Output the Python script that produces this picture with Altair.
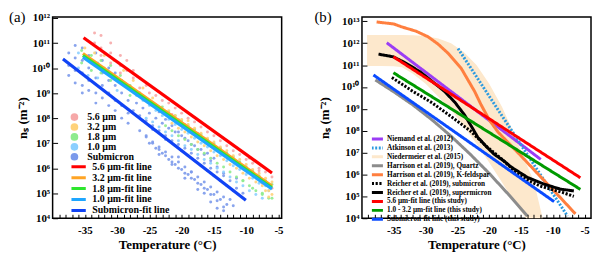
import altair as alt
import pandas as pd

FONT = "Liberation Serif"

# ---------------- Panel (a): measured spectra (temperature in degC, log10 ns) ----------------
sub_T = [-37.5, -37.5, -37.5, -36.5, -36.5, -36.5, -36.5, -35.4, -35.4, -35.4, -35.4, -35.4,
         -34.4, -34.4, -34.4, -34.4, -33.3, -33.3, -33.3, -33.3, -33.3, -32.3, -32.3, -32.3, -32.3,
         -31.3, -31.3, -31.3, -31.3, -30.3, -30.3, -30.3, -30.3, -29.3, -29.3, -29.3, -29.3,
         -28.3, -28.3, -28.3, -28.3,
         -27, -26, -25, -24, -23, -22, -21, -20, -19, -18, -17, -16, -15,
         -27.5, -26.5, -25.5, -24.5, -23.5, -22.5, -21.5, -20.5, -19.5, -18.5, -17.5, -16.5, -15.5, -14.5, -13.5,
         -26, -25, -24, -23, -22, -21, -20, -19, -18, -17, -16, -15, -14, -13, -12,
         -26.5, -25.5, -24.5, -23.5, -22.5, -21.5, -20.5, -19.5, -18.5, -17.5, -16.5, -15.5, -14.5, -13.5,
         -25, -24, -23, -22, -21, -20, -19, -18, -17, -16, -15, -14, -13,
         -25.5, -24.5, -23.5, -22.5, -21.5, -20.5, -19.5, -18.5, -17.5, -16.5, -15.5, -14.5, -13.5,
         -24.5, -23.5, -22.5, -21.5, -20.5, -19.5, -18.5, -17.5, -16.5, -15.5, -14.5, -13.5, -12.5, -11.5,
         -23.5, -21.5, -19.5, -17.5, -15.5, -14.5, -13.5, -12.5, -11.5, -16.5, -18.5, -20.5, -22.5, -24.5,
         -10.5, -12]
sub_L = [10.6, 10.1, 9.7, 10.9, 10.4, 9.9, 9.4, 10.8, 10.3, 9.8, 9.3, 9.0,
         10.5, 10.0, 9.5, 9.1, 10.6, 10.1, 9.6, 9.0, 8.6, 10.3, 9.8, 9.3, 8.8,
         10.0, 9.5, 9.0, 8.5, 9.8, 9.3, 8.7, 8.3, 9.5, 9.0, 8.5, 8.0,
         9.2, 8.7, 8.2, 7.8,
         8.6, 8.4, 8.2, 8.0, 7.8, 7.6, 7.45, 7.3, 7.1, 6.9, 6.75, 6.6, 6.4,
         8.3, 8.1, 7.9, 7.7, 7.5, 7.3, 7.1, 6.95, 6.8, 6.6, 6.4, 6.2, 6.0, 5.85, 5.7,
         7.9, 7.7, 7.5, 7.3, 7.1, 6.9, 6.7, 6.5, 6.3, 6.1, 5.9, 5.7, 5.5, 5.3, 5.1,
         7.5, 7.3, 7.05, 6.85, 6.65, 6.45, 6.25, 6.05, 5.85, 5.65, 5.45, 5.25, 5.05, 4.85,
         7.0, 6.8, 6.6, 6.35, 6.15, 5.95, 5.75, 5.55, 5.35, 5.15, 4.95, 4.75, 4.55,
         7.25, 7.0, 6.75, 6.5, 6.25, 6.0, 5.8, 5.6, 5.4, 5.2, 4.95, 4.7, 4.45,
         8.5, 8.25, 7.95, 7.7, 7.45, 7.2, 6.95, 6.75, 6.55, 6.3, 6.05, 5.8, 5.5, 5.2,
         6.55, 6.15, 5.6, 5.15, 4.65, 4.4, 4.3, 4.75, 5.6, 5.0, 5.85, 6.45, 7.15, 7.55,
         5.0, 4.5]

um10_T = [-36, -36, -34.5, -34.5, -33, -33, -31.5, -30, -30, -28.5, -27,
          -26, -25, -24, -23, -22, -21, -20, -19, -18, -17, -16, -15, -14, -13, -12, -11, -10, -9, -8,
          -25.5, -24.5, -23.5, -22.5, -21.5, -20.5, -19.5, -18.5, -17.5, -16.5, -15.5, -14.5, -13.5,
          -12.5, -11.5, -10.5, -9.5, -8.5, -7.5,
          -6.5, -7]
um10_L = [10.6, 10.0, 10.4, 9.7, 10.2, 9.6, 9.9, 9.6, 9.1, 9.3, 8.9,
          8.7, 8.5, 8.3, 8.1, 7.95, 7.75, 7.55, 7.4, 7.2, 7.0, 6.85, 6.65, 6.5, 6.3, 6.1, 5.95, 5.75, 5.6, 5.4,
          8.0, 7.85, 7.65, 7.45, 7.3, 7.1, 6.9, 6.75, 6.55, 6.35, 6.2, 6.0, 5.85,
          5.65, 5.45, 5.3, 5.1, 4.95, 4.8,
          5.1, 5.3]

um18_T = [-35.5, -35.5, -34, -34, -32.5, -32.5, -31, -31, -29.5, -28, -28, -26.5,
          -23, -22, -21, -20, -19, -18, -17, -16, -15, -14, -13, -12, -11, -10, -9, -8, -7, -6,
          -22.5, -21.5, -20.5, -19.5, -18.5, -17.5, -16.5, -15.5, -14.5, -13.5, -12.5, -11.5,
          -10.5, -9.5, -8.5, -7.5, -6.5,
          -6, -7.5, -10.5, -9]
um18_L = [10.7, 10.2, 10.5, 9.9, 10.3, 9.8, 10.1, 9.5, 9.7, 9.3, 8.9, 9.0,
          8.45, 8.25, 8.1, 7.9, 7.7, 7.55, 7.35, 7.15, 7.0, 6.8, 6.6, 6.45, 6.25, 6.05, 5.9, 5.7, 5.5, 5.35,
          7.7, 7.5, 7.3, 7.15, 6.95, 6.75, 6.6, 6.4, 6.2, 6.05, 5.85, 5.65,
          5.5, 5.3, 5.1, 4.95, 4.8,
          4.8, 5.0, 5.5, 5.2]

um32_T = [-35, -35, -33.5, -33.5, -32, -32, -30.5, -30.5, -29, -29, -27.5, -27.5, -26, -26, -24.5,
          -22, -21, -20, -19, -18, -17, -16, -15, -14, -13, -12, -11, -10, -9, -8, -7, -6,
          -21.5, -20.5, -19.5, -18.5, -17.5, -16.5, -15.5, -14.5, -13.5, -12.5, -11.5, -10.5,
          -9.5, -8.5, -7.5, -6.5,
          -6, -6.5, -7, -19, -11]
um32_L = [10.8, 10.4, 10.6, 10.2, 10.5, 10.0, 10.3, 9.7, 9.9, 9.4, 9.5, 9.1, 9.2, 8.8, 8.8,
          8.3, 8.1, 7.95, 7.75, 7.6, 7.4, 7.2, 7.05, 6.85, 6.7, 6.5, 6.35, 6.15, 5.95, 5.8, 5.6, 5.45,
          7.8, 7.6, 7.45, 7.25, 7.05, 6.9, 6.7, 6.5, 6.35, 6.15, 6.0, 5.8,
          5.6, 5.45, 5.3, 5.1,
          4.95, 4.85, 5.1, 7.9, 6.2]

um56_T = [-33.5, -33.5, -32.5, -32.5, -32.5, -31, -31, -31, -29.5, -29.5, -29.5, -28.5, -28.5,
          -27.5, -27.5, -26.5, -26.5, -25.5, -25,
          -22, -21, -20, -19, -18, -17, -16, -15, -14, -13, -12, -11, -10, -9, -8, -7, -6,
          -21.5, -20.5, -19.5, -18.5, -17.5, -16.5, -15.5, -14.5, -13.5, -12.5, -11.5, -10.5,
          -9.5, -8.5, -7.5, -6.5,
          -23, -20.5, -17.5, -12.5, -9.5, -7.5, -6, -8, -24, -14.5]
um56_L = [11.4, 11.0, 11.3, 10.8, 10.5, 11.0, 10.6, 10.2, 10.5, 10.1, 9.8, 10.3, 9.9,
          9.9, 9.6, 9.6, 9.2, 9.3, 9.0,
          8.6, 8.4, 8.2, 8.0, 7.85, 7.65, 7.45, 7.3, 7.1, 6.9, 6.7, 6.55, 6.35, 6.2, 6.0, 5.85, 5.65,
          8.15, 7.95, 7.75, 7.55, 7.35, 7.2, 7.0, 6.8, 6.6, 6.45, 6.25, 6.05,
          5.85, 5.7, 5.5, 5.35,
          8.7, 7.9, 7.4, 6.4, 6.4, 5.4, 5.2, 5.9, 8.9, 6.8]

pt_names = ["5.6 µm", "3.2 µm", "1.8 µm", "1.0 µm", "Submicron"]
pt_colors = ["#F6A8A8", "#FFD27A", "#8EEB8E", "#8CCFFF", "#7C9AEB"]

# fit lines (end points)
fit_names = ["5.6 µm-fit line", "3.2 µm-fit line", "1.8 µm-fit line", "1.0 µm-fit line", "Submicron-fit line"]
fit_colors = ["#FF0000", "#FFA424", "#2EE62E", "#1EA6FF", "#1043F5"]
fit_T = [[-35.2, -6.0], [-35.3, -6.0], [-35.3, -6.0], [-35.3, -6.0], [-38.4, -10.05]]
fit_L = [[11.21, 5.81], [10.58, 5.29], [10.5, 5.22], [10.43, 5.17], [10.36, 4.72]]

# ---------------- Panel (b): literature comparison ----------------
b_names = ["Niemand et al. (2012)", "Atkinson et al. (2013)", "Niedermeier et al. (2015)",
           "Harrison et al. (2019), Quartz", "Harrison et al. (2019), K-feldspar",
           "Reicher et al. (2019), submicron", "Reicher et al. (2019), supermicron",
           "5.6 µm-fit line (this study)", "1.0 - 3.2 µm-fit line (this study)",
           "Submicron-fit line (this study)"]
b_colors = ["#9B3DF5", "#2C9BE0", "#FDE8CC", "#8C8C8C", "#FF7F3F",
            "#000000", "#000000", "#FF0000", "#009A00", "#0A4BFF"]
b_dash = [[1, 0], [2, 1.6], [1, 0], [1, 0], [1, 0], [2.2, 1.6], [1, 0], [1, 0], [1, 0], [1, 0]]
b_width = [3, 3, 5, 3, 2.6, 3, 3, 3.5, 3.5, 3.5]

b_T = {
    "Niemand et al. (2012)": [-36.1, -11.9],
    "Atkinson et al. (2013)": [-24.9, -7.7],
    "Harrison et al. (2019), Quartz": [-37.9, -35, -32, -29, -26, -23, -20, -17, -14],
    "Harrison et al. (2019), K-feldspar": [-37.7, -35, -33.8, -31.5, -29.6, -28, -26.5, -24.4, -22.3,
                                           -21.3, -20, -18.65, -15, -12, -9, -6.45],
    "Reicher et al. (2019), submicron": [-35.3, -32, -29, -26, -23, -20.5, -18, -16, -14, -12, -10,
                                         -8.5, -6.7],
    "Reicher et al. (2019), supermicron": [-37.4, -35.1, -33.5, -32.2, -30.8, -29.6, -28.3, -27, -25.4,
                                           -23.9, -22.8, -21.8, -20.2, -19.2, -17.6, -16.6, -14, -11.4,
                                           -8.8, -6.7],
    "5.6 µm-fit line (this study)": [-35.06, -5.67],
    "1.0 - 3.2 µm-fit line (this study)": [-35.06, -5.67],
    "Submicron-fit line (this study)": [-38.2, -9.8],
}
b_L = {
    "Niemand et al. (2012)": [12.02, 6.69],
    "Atkinson et al. (2013)": [11.76, 4.1],
    "Harrison et al. (2019), Quartz": [10.32, 9.78, 9.18, 8.5, 7.75, 6.93, 6.05, 5.1, 4.1],
    "Harrison et al. (2019), K-feldspar": [12.97, 12.88, 12.75, 12.55, 12.29, 11.95, 11.55, 10.85, 9.8,
                                           9.2, 8.5, 7.95, 6.85, 5.92, 5.0, 4.2],
    "Reicher et al. (2019), submicron": [10.43, 9.8, 9.28, 8.65, 8.0, 7.3, 6.7, 6.15, 5.75, 5.47, 5.3,
                                         5.18, 5.0],
    "Reicher et al. (2019), supermicron": [11.5, 11.38, 11.15, 10.93, 10.68, 10.4, 10.1, 9.79, 9.3,
                                           8.73, 8.2, 7.7, 7.2, 6.92, 6.6, 6.35, 5.87, 5.56, 5.33, 5.25],
    "5.6 µm-fit line (this study)": [11.38, 5.85],
    "1.0 - 3.2 µm-fit line (this study)": [10.65, 5.32],
    "Submicron-fit line (this study)": [10.55, 4.76],
}

# Niedermeier et al. (2015) band
band_T = [-39.2, -37, -35, -33.7, -32, -30, -28, -26, -24, -22, -20, -18, -16, -14.2, -13, -11.6]
band_top = [12.37, 12.37, 12.37, 12.37, 12.36, 12.33, 12.22, 12.0, 11.6, 11.0, 10.15, 9.1, 7.8, 6.5, 5.7, 4.0]
band_bot = [10.96, 10.96, 10.95, 10.9, 10.6, 10.15, 9.55, 8.95, 8.2, 7.4, 6.55, 5.65, 4.7, 4.0, 4.0, 4.0]

# ---------------- build tables ----------------
rows = []
for cls, T, L in [("Submicron", sub_T, sub_L), ("1.0 µm", um10_T, um10_L), ("1.8 µm", um18_T, um18_L),
                  ("3.2 µm", um32_T, um32_L), ("5.6 µm", um56_T, um56_L)]:
    for t, l in zip(T, L):
        rows.append({"T": t, "ns": 10 ** l, "cls": cls})
df_pts = pd.DataFrame(rows)

rows = []
for name, T, L in zip(fit_names, fit_T, fit_L):
    for t, l in zip(T, L):
        rows.append({"T": t, "ns": 10 ** l, "fit": name})
df_fit = pd.DataFrame(rows)

rows = []
for name in b_names:
    if name in b_T:
        for t, l in zip(b_T[name], b_L[name]):
            rows.append({"T": t, "ns": 10 ** l, "src": name})
df_b = pd.DataFrame(rows)

df_band = pd.DataFrame({"T": band_T, "top": [10 ** v for v in band_top], "bot": [10 ** v for v in band_bot]})

# ---------------- helpers ----------------
SUP = "['⁰','¹','²','³','⁴','⁵','⁶','⁷','⁸','⁹','¹⁰','¹¹','¹²','¹³']"
YLBL = "'10' + " + SUP + "[round(log(datum.value)/LN10)]"
XLBL = "'-' + toString(abs(datum.value))"
XMAJ = [-35, -30, -25, -20, -15, -10, -5]
XMIN = list(range(-39, -4))


def x_main():
    return alt.Axis(orient="bottom", values=XMAJ, labelExpr=XLBL, ticks=False, tickSize=0, domain=False,
                    grid=False, labelPadding=6, title="Temperature (°C)", titlePadding=4)


def x_ticks():
    return alt.Axis(orient="bottom", values=XMIN, labels=False, ticks=True, tickSize=4, offset=-4,
                    domain=False, grid=False, title=None, tickColor="black", tickWidth=1, zindex=2)


def y_main(vals, tp):
    return alt.Axis(orient="left", values=vals, labelExpr=YLBL, ticks=False, tickSize=0, domain=False,
                    grid=False, labelPadding=3, title="nₛ (m⁻²)", titlePadding=tp)


def y_ticks(vals):
    return alt.Axis(orient="left", values=vals, labels=False, ticks=True, tickSize=5, offset=-5,
                    domain=False, grid=False, title=None, tickColor="black", tickWidth=1, zindex=2)


W, H = 231, 203
B_OFF = 311  # horizontal distance between the two plot areas (legend positions are relative to panel a)

# ---------------- panel (a) ----------------
xa = alt.Scale(domain=[-40, -4.5], nice=False, zero=False)
ya = alt.Scale(type="log", domain=[1e4, 1.1e12], nice=False)
ya_vals = [10 ** k for k in range(4, 13)]

scatter = alt.Chart(df_pts).mark_circle(size=9, opacity=0.9, strokeWidth=0).encode(
    x=alt.X("T:Q", scale=xa, axis=x_main()),
    y=alt.Y("ns:Q", scale=ya, axis=y_main(ya_vals, 2)),
    fill=alt.Fill("cls:N", scale=alt.Scale(domain=pt_names, range=pt_colors),
                  legend=alt.Legend(title=None, orient="none", legendX=17, legendY=96, symbolType="circle",
                                    symbolSize=60, labelFont=FONT, labelFontWeight="bold", labelFontSize=10,
                                    labelColor="black", rowPadding=0, padding=0, labelOffset=8,
                                    clipHeight=10, symbolStrokeWidth=0, symbolOpacity=1)),
)

fits = alt.Chart(df_fit).mark_line(strokeWidth=3.2).encode(
    x=alt.X("T:Q", scale=xa, axis=x_ticks()),
    y=alt.Y("ns:Q", scale=ya, axis=y_ticks(ya_vals)),
    stroke=alt.Stroke("fit:N", scale=alt.Scale(domain=fit_names, range=fit_colors),
                      legend=alt.Legend(title=None, orient="none", legendX=19, legendY=146,
                                        symbolType="M-6.3,0H6.3", symbolSize=9, symbolStrokeWidth=3,
                                        labelFont=FONT, labelFontWeight="bold", labelFontSize=10,
                                        labelColor="black", rowPadding=0, padding=0, labelOffset=11,
                                        clipHeight=10.2)),
)

lab_a = alt.Chart(pd.DataFrame({"t": ["(a)"]})).mark_text(
    font=FONT, fontSize=15, align="left", baseline="middle", color="black"
).encode(text="t:N", x=alt.value(-44), y=alt.value(0))

panel_a = alt.layer(scatter, fits, lab_a).resolve_axis(x="independent", y="independent").properties(
    width=W, height=H)

# ---------------- panel (b) ----------------
xb = alt.Scale(domain=[-40, -4], nice=False, zero=False)
yb = alt.Scale(type="log", domain=[1e4, 1.58e13], nice=False)
yb_vals = [10 ** k for k in range(4, 14)]

band = alt.Chart(df_band).mark_area(color="#FDE8CC", opacity=1).encode(
    x=alt.X("T:Q", scale=xb, axis=x_main()),
    y=alt.Y("bot:Q", scale=yb, axis=y_main(yb_vals, 9)),
    y2="top:Q",
)

leg_b = alt.Legend(title=None, orient="none", legendX=B_OFF + 11, legendY=119, symbolType="M-5,0H5",
                   symbolSize=9, labelFont=FONT, labelFontWeight="bold", labelFontSize=7.3,
                   labelColor="black", rowPadding=0, padding=0, labelOffset=8, labelLimit=300,
                   clipHeight=8.1)

lines_b = alt.Chart(df_b).mark_line().encode(
    x=alt.X("T:Q", scale=xb, axis=x_ticks()),
    y=alt.Y("ns:Q", scale=yb, axis=y_ticks(yb_vals)),
    color=alt.Color("src:N", scale=alt.Scale(domain=b_names, range=b_colors), legend=leg_b),
    strokeDash=alt.StrokeDash("src:N", scale=alt.Scale(domain=b_names, range=b_dash), legend=leg_b),
    strokeWidth=alt.StrokeWidth("src:N", scale=alt.Scale(domain=b_names, range=b_width), legend=leg_b),
)

lab_b = alt.Chart(pd.DataFrame({"t": ["(b)"]})).mark_text(
    font=FONT, fontSize=15, align="left", baseline="middle", color="black"
).encode(text="t:N", x=alt.value(-48), y=alt.value(0))

panel_b = alt.layer(band, lines_b, lab_b).resolve_axis(x="independent", y="independent").properties(
    width=W, height=H)

chart = alt.hconcat(panel_a, panel_b, spacing=29).properties(padding=0).configure_view(
    stroke="black", strokeWidth=1.5
).configure_axis(
    labelFont=FONT, labelFontWeight="bold", labelFontSize=11, labelColor="black",
    titleFont=FONT, titleFontWeight="bold", titleFontSize=13, titleColor="black"
)

chart.save("out.html", embed_options={"renderer": "svg", "actions": False})
